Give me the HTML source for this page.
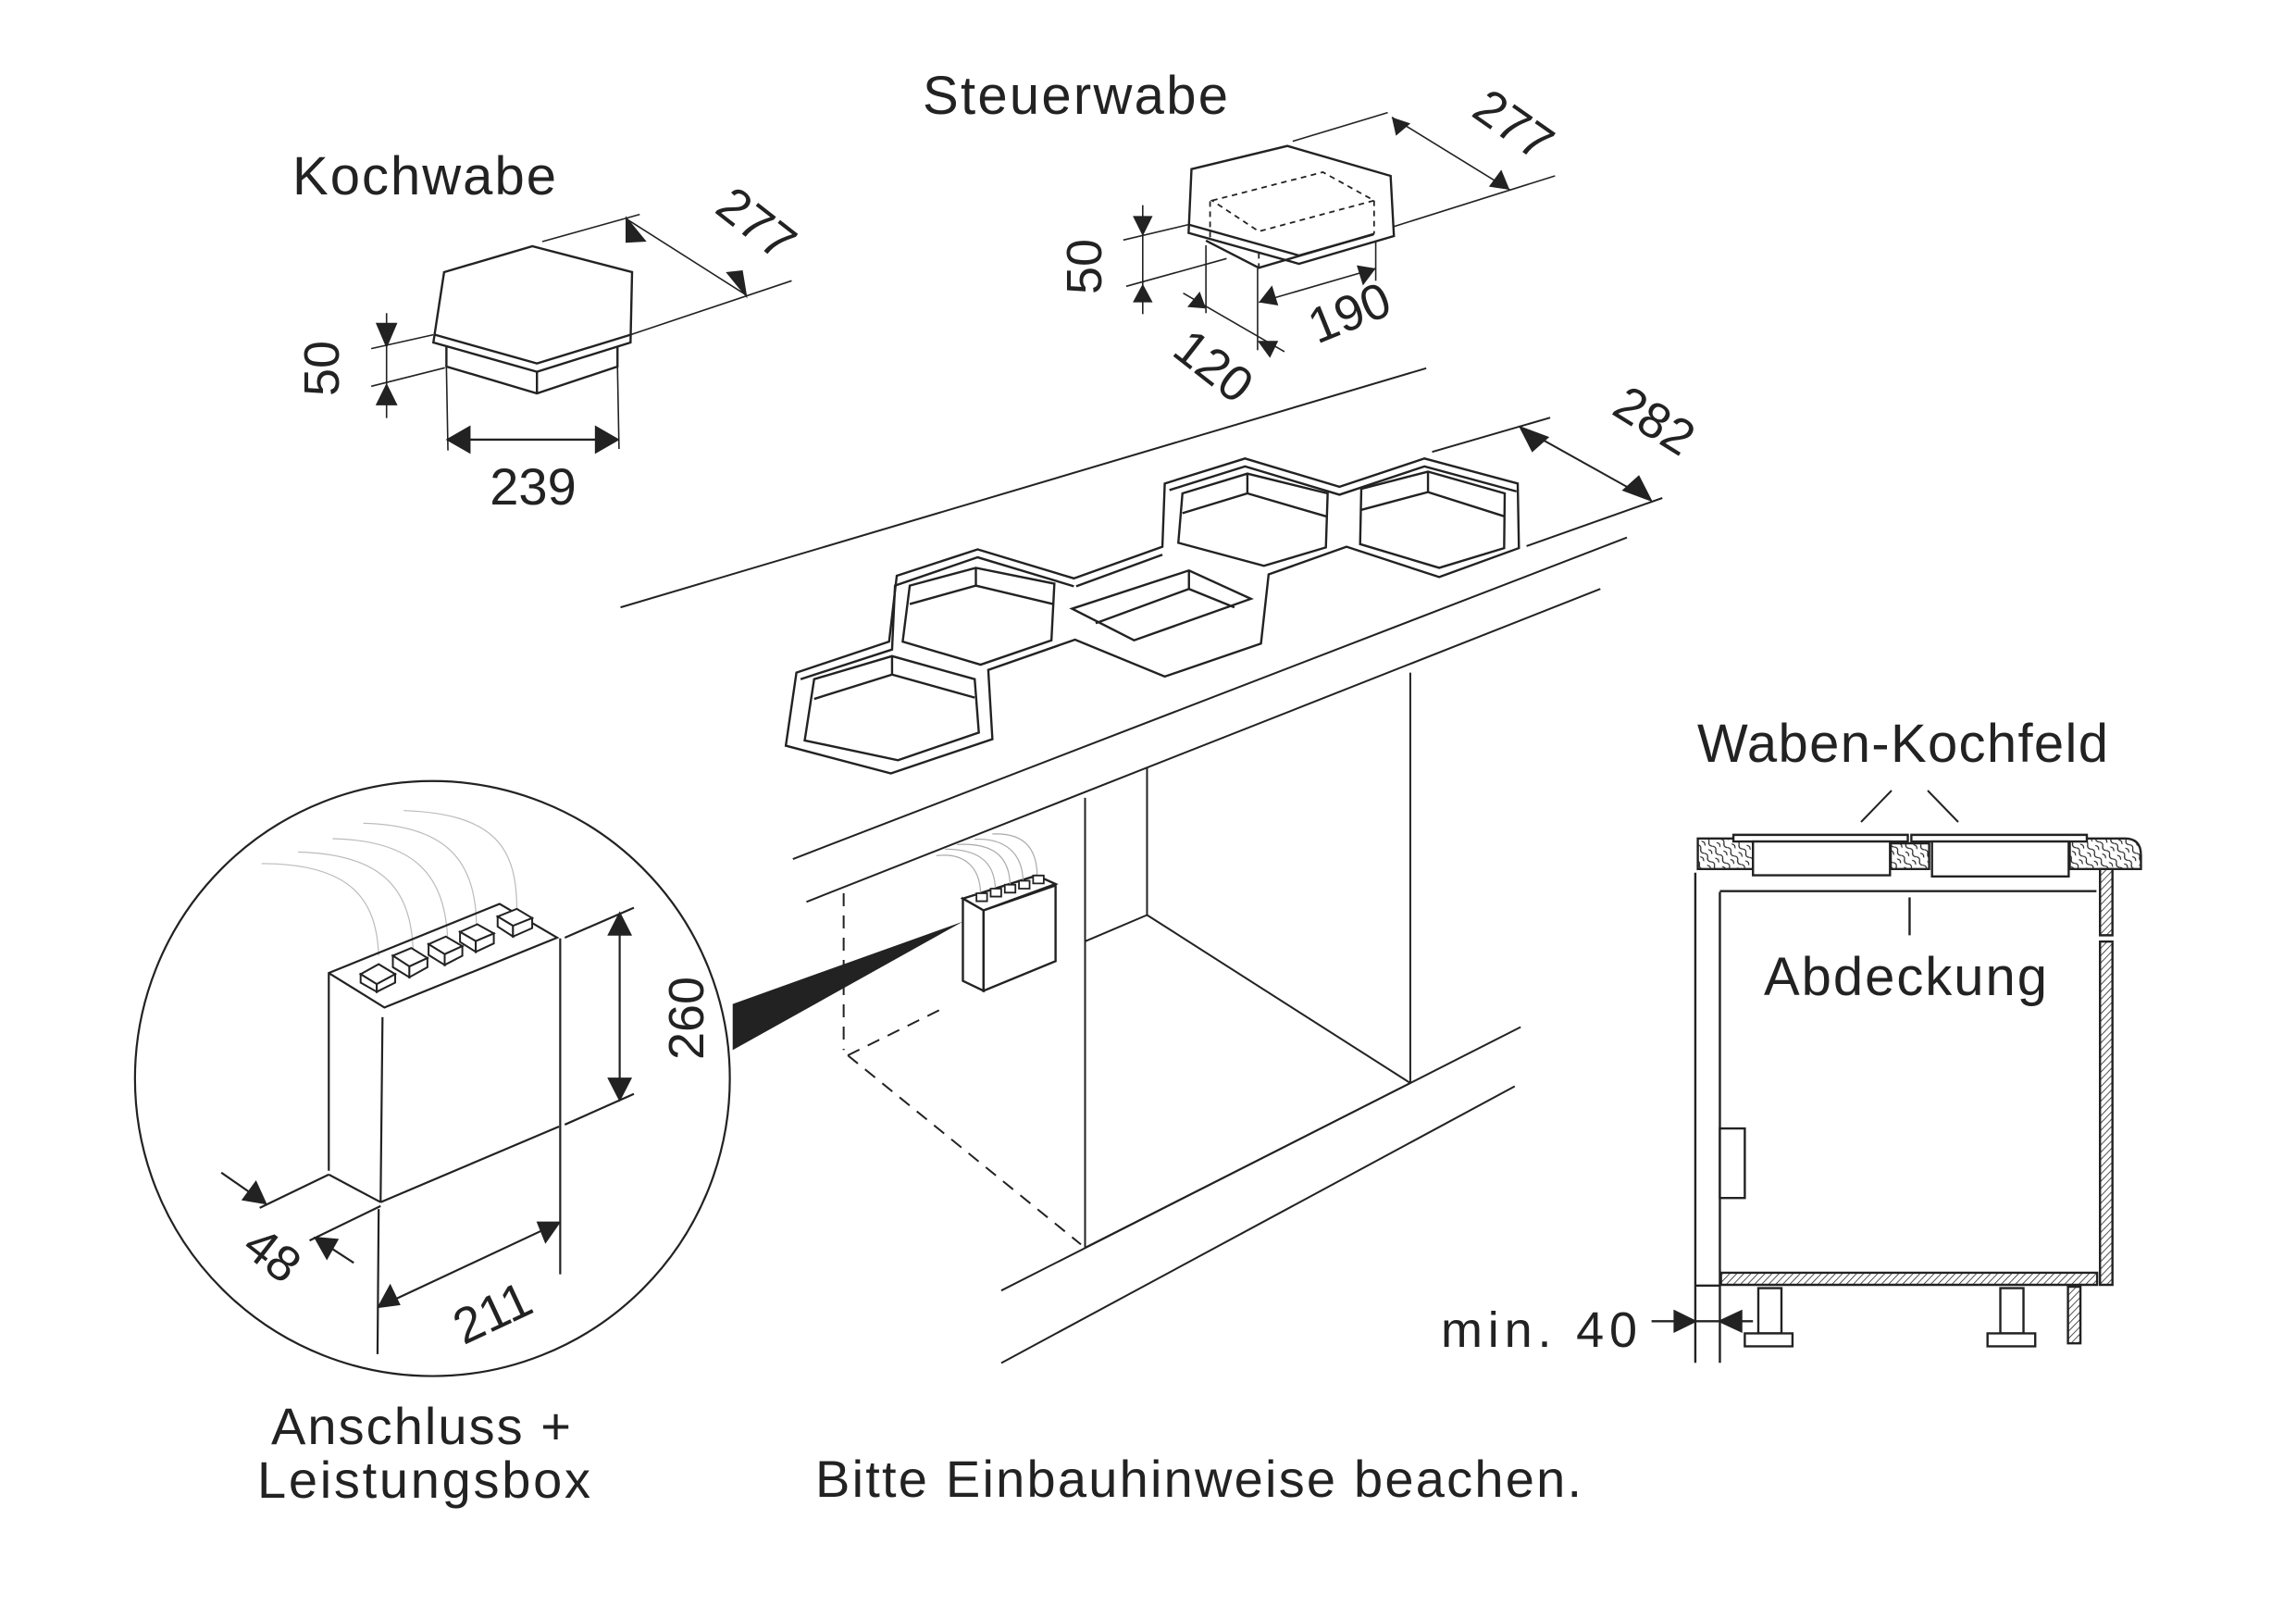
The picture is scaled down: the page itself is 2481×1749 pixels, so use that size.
<!DOCTYPE html>
<html><head><meta charset="utf-8"><style>
html,body{margin:0;padding:0;background:#fff}
svg{display:block}
text{font-family:"Liberation Sans",sans-serif;fill:#222}
.s *{vector-effect:non-scaling-stroke}
</style></head><body>
<svg width="2481" height="1749" viewBox="0 0 2481 1749" xmlns="http://www.w3.org/2000/svg">
<defs>
<pattern id="h" patternUnits="userSpaceOnUse" width="14" height="14" patternTransform="rotate(45)">
<rect width="14" height="14" fill="#fff"/><line x1="0" y1="0" x2="0" y2="14" stroke="#222" stroke-width="4"/>
</pattern>
<pattern id="w" patternUnits="userSpaceOnUse" width="30" height="30" patternTransform="rotate(-40)">
<rect width="30" height="30" fill="#fff"/><path d="M0 0 Q8 8 0 15 Q-8 22 0 30 M15 0 Q23 8 15 15 Q7 22 15 30" stroke="#222" stroke-width="3" fill="none"/>
</pattern>
</defs>

<!-- Kochwabe -->
<g class="s" transform="translate(300,60) scale(0.829,0.3333)" stroke="#222" stroke-width="2.4" fill="none">
<polygon points="217,702 332,618 462,702 460,930 338,1025 203,930"/>
<polyline points="205,905 338,998 460,905"/>
<polyline points="220,945 220,1008 338,1095 443,1008 443,945"/>
<line x1="338" y1="1025" x2="338" y2="1095"/>
<line x1="122" y1="950" x2="203" y2="905" stroke-width="1.6"/>
<line x1="122" y1="1072" x2="218" y2="1012" stroke-width="1.6"/>
<line x1="142" y1="835" x2="142" y2="1175" stroke-width="1.6"/>
<polygon points="130,870 154,870 142,940" fill="#222"/>
<polygon points="130,1130 154,1130 142,1070" fill="#222"/>
<line x1="220" y1="1010" x2="222" y2="1280" stroke-width="1.6"/>
<line x1="443" y1="1010" x2="445" y2="1275" stroke-width="1.6"/>
<line x1="222" y1="1245" x2="443" y2="1245"/>
<polygon points="222,1245 250,1205 250,1285" fill="#222"/>
<polygon points="443,1245 415,1205 415,1285" fill="#222"/>
<line x1="345" y1="603" x2="472" y2="515" stroke-width="1.6"/>
<line x1="460" y1="905" x2="670" y2="730" stroke-width="1.6"/>
<line x1="455" y1="530" x2="610" y2="775" stroke-width="1.6"/>
<polygon points="455,530 478,600 455,603" fill="#222"/>
<polygon points="610,775 587,705 605,700" fill="#222"/>
</g>
<text x="316" y="210" font-size="58" textLength="285">Kochwabe</text>
<text x="0" y="0" font-size="54" transform="translate(366,398) rotate(-90)" text-anchor="middle">50</text>
<text x="576" y="545" font-size="56" text-anchor="middle">239</text>
<text x="0" y="0" font-size="54" transform="translate(806,256) rotate(38)" text-anchor="middle">277</text>

<!-- Steuerwabe -->
<g class="s" transform="translate(1100,120) scale(0.4464,0.3333)" stroke="#222" stroke-width="2.4" fill="none">
<polygon points="420,188 652,113 902,210 910,405 680,495 413,395"/>
<polyline points="413,368 680,468 860,400"/>
<polyline points="455,420 583,508 862,398"/>
<g stroke-dasharray="6,5" stroke-width="1.8">
<polygon points="470,290 738,198 862,290 583,390"/>
<line x1="465" y1="292" x2="465" y2="410"/>
<line x1="583" y1="460" x2="583" y2="508"/>
<line x1="862" y1="290" x2="862" y2="398"/>
</g>
<g stroke-width="1.6">
<line x1="255" y1="418" x2="413" y2="368"/>
<line x1="262" y1="568" x2="505" y2="478"/>
<line x1="302" y1="305" x2="302" y2="658"/>
<line x1="455" y1="435" x2="455" y2="655"/>
<line x1="580" y1="510" x2="580" y2="775"/>
<line x1="400" y1="590" x2="645" y2="780"/>
<line x1="866" y1="420" x2="866" y2="550"/>
<line x1="583" y1="620" x2="866" y2="510"/>
<line x1="665" y1="98" x2="895" y2="5"/>
<line x1="908" y1="375" x2="1300" y2="210"/>
<line x1="905" y1="20" x2="1190" y2="255"/>
</g>
<g fill="#222" stroke="none">
<polygon points="278,340 326,340 302,405"/>
<polygon points="278,620 326,620 302,560"/>
<polygon points="455,640 410,635 440,585"/>
<polygon points="580,745 630,745 610,800"/>
<polygon points="583,620 630,630 615,565"/>
<polygon points="866,510 820,500 835,565"/>
<polygon points="905,20 950,40 915,80"/>
<polygon points="1190,255 1140,245 1170,190"/>
</g>
</g>
<text x="997" y="123" font-size="58" textLength="330">Steuerwabe</text>
<text x="0" y="0" font-size="54" transform="translate(1190,288) rotate(-90)" text-anchor="middle">50</text>
<text x="0" y="0" font-size="54" transform="translate(1300,410) rotate(38)" text-anchor="middle">120</text>
<text x="0" y="0" font-size="54" transform="translate(1465,355) rotate(-22)" text-anchor="middle">190</text>
<text x="0" y="0" font-size="54" transform="translate(1625,150) rotate(35)" text-anchor="middle">277</text>

<!-- Countertop / cabinet -->
<g class="s" transform="translate(830,380) scale(0.6378,0.7117)" stroke="#222" stroke-width="2.4" fill="none">
<line x1="-250" y1="388" x2="1115" y2="25" stroke-width="2"/>
<line x1="1125" y1="152" x2="1325" y2="100" stroke-width="2"/>
<line x1="1285" y1="295" x2="1515" y2="222" stroke-width="2"/>
<line x1="42" y1="770" x2="1455" y2="282" stroke-width="2"/>
<line x1="65" y1="835" x2="1410" y2="360" stroke-width="2"/>
<line x1="1275" y1="115" x2="1495" y2="225" stroke-width="2"/>
<polygon points="1275,115 1320,130 1295,150" fill="#222"/>
<polygon points="1495,225 1450,210 1475,190" fill="#222"/>
<polygon points="30,598 48,487 205,440 218,340 355,300 518,344 668,296 672,200 808,162 968,205 1112,162 1270,200 1272,298 1137,342 980,296 848,338 835,443 672,493 520,437 373,483 380,588 208,640"/>
<polyline points="55,497 210,452 215,355 355,312 518,356"/>
<polyline points="680,210 808,174 968,217 1112,174 1268,212"/>
<polyline points="522,356 668,308"/>
<polygon points="62,590 78,497 210,462 350,497 357,578 220,620"/>
<polyline points="78,527 210,490 350,525"/><line x1="210" y1="463" x2="210" y2="490"/>
<polygon points="228,440 240,355 352,328 485,352 480,438 360,475"/>
<polyline points="240,383 352,355 483,383"/><line x1="352" y1="328" x2="352" y2="355"/>
<polygon points="515,390 713,332 818,375 620,438"/>
<polyline points="555,412 713,360 790,388"/><line x1="713" y1="332" x2="713" y2="360"/>
<polygon points="695,290 702,215 812,185 948,215 945,297 840,325"/>
<polyline points="702,245 812,215 946,250"/><line x1="812" y1="185" x2="812" y2="215"/>
<polygon points="1003,292 1005,208 1118,182 1248,215 1247,298 1137,328"/>
<polyline points="1005,240 1118,213 1248,250"/><line x1="1118" y1="182" x2="1118" y2="213"/>
<g stroke-width="2">
<line x1="537" y1="677" x2="537" y2="1360"/>
<line x1="642" y1="632" x2="642" y2="855"/>
<line x1="1088" y1="487" x2="1088" y2="1110"/>
<line x1="537" y1="895" x2="642" y2="855"/>
<line x1="642" y1="855" x2="1088" y2="1110"/>
<line x1="537" y1="1360" x2="1088" y2="1110"/>
<line x1="395" y1="1425" x2="1275" y2="1025"/>
<line x1="395" y1="1535" x2="1265" y2="1115"/>
</g>
<g stroke-width="2" stroke-dasharray="14,10">
<line x1="128" y1="822" x2="128" y2="1060"/>
<line x1="135" y1="1068" x2="300" y2="995"/>
<line x1="135" y1="1068" x2="530" y2="1355"/>
</g>
<polygon points="330,830 455,795 487,808 365,848" fill="#fff"/>
<polygon points="330,830 365,848 365,970 330,955" fill="#fff"/>
<polygon points="365,848 487,810 487,925 365,970" fill="#fff"/>
<g stroke="#aaa" stroke-width="1.2">
<path d="M360,825 C360,780 330,760 285,765"/><path d="M385,818 C385,770 350,755 300,755"/>
<path d="M410,812 C410,765 380,745 320,748"/><path d="M432,806 C432,760 400,738 350,740"/>
<path d="M456,798 C456,750 430,730 380,732"/>
</g>
<g fill="#fff" stroke-width="1.8">
<rect x="353" y="822" width="18" height="12"/><rect x="377" y="815" width="18" height="12"/>
<rect x="401" y="809" width="18" height="12"/><rect x="425" y="803" width="18" height="12"/>
<rect x="449" y="795" width="18" height="12"/>
</g>
<polygon points="-60,990 330,865 -60,1060" fill="#222" stroke="none"/>
</g>

<!-- Circle detail -->
<g class="s" transform="translate(150,850) scale(0.4147)" stroke="#222" stroke-width="2.2" fill="none">
<circle cx="765" cy="760" r="775" fill="#fff"/>
<g stroke="#bbb" stroke-width="1.2">
<path d="M625,440 C620,300 560,200 320,200"/><path d="M715,445 C715,270 640,175 415,170"/>
<path d="M805,405 C800,230 720,140 505,135"/><path d="M880,370 C880,190 800,100 585,95"/>
<path d="M985,320 C985,160 930,70 690,62"/>
</g>
<polyline points="495,1000 495,485 940,305 1090,393 640,575 495,485"/>
<line x1="635" y1="600" x2="630" y2="1082"/>
<line x1="495" y1="1010" x2="630" y2="1082"/>
<line x1="630" y1="1082" x2="1095" y2="885"/>
<line x1="1098" y1="395" x2="1098" y2="1270"/>
<line x1="1110" y1="393" x2="1290" y2="315"/>
<line x1="1110" y1="880" x2="1290" y2="800"/>
<line x1="1253" y1="340" x2="1253" y2="805"/>
<polygon points="1225,385 1281,385 1253,330" fill="#222"/>
<polygon points="1225,760 1281,760 1253,815" fill="#222"/>
<line x1="315" y1="1097" x2="495" y2="1010"/>
<line x1="445" y1="1182" x2="630" y2="1092"/>
<line x1="215" y1="1005" x2="330" y2="1085"/>
<polygon points="330,1085 272,1075 305,1030" fill="#222"/>
<line x1="560" y1="1240" x2="460" y2="1175"/>
<polygon points="460,1175 517,1180 490,1228" fill="#222"/>
<line x1="625" y1="1100" x2="622" y2="1478"/>
<line x1="625" y1="1355" x2="1095" y2="1135"/>
<polygon points="625,1355 655,1300 678,1348" fill="#222"/>
<polygon points="1095,1135 1060,1185 1040,1135" fill="#222"/>
<g fill="#fff" stroke-width="2">
<polygon points="578,488 625,462 668,488 620,514"/><polygon points="578,488 620,514 620,534 578,510"/><polygon points="620,514 668,488 668,510 620,534"/>
<polygon points="662,440 710,420 752,446 705,468"/><polygon points="662,440 705,468 705,496 662,470"/><polygon points="705,468 752,446 752,470 705,496"/>
<polygon points="755,410 800,390 843,415 797,436"/><polygon points="755,410 797,436 797,464 755,438"/><polygon points="797,436 843,415 843,440 797,464"/>
<polygon points="837,378 882,358 925,382 878,402"/><polygon points="837,378 878,402 878,430 837,404"/><polygon points="878,402 925,382 925,408 878,430"/>
<polygon points="935,338 985,318 1025,342 975,362"/><polygon points="935,338 975,362 975,390 935,364"/><polygon points="975,362 1025,342 1025,368 975,390"/>
</g>
</g>
<text x="0" y="0" font-size="54" transform="translate(760,1100) rotate(-90)" text-anchor="middle">260</text>
<text x="0" y="0" font-size="54" transform="translate(283,1370) rotate(38)" text-anchor="middle">48</text>
<text x="0" y="0" font-size="54" transform="translate(540,1435) rotate(-25)" text-anchor="middle">211</text>
<text x="0" y="0" font-size="54" transform="translate(1778,470) rotate(32)" text-anchor="middle">282</text>

<!-- Side section -->
<g class="s" transform="translate(1800,880) scale(0.3846,0.3975)" stroke="#222" stroke-width="2.4" fill="none">
<rect x="90" y="65" width="155" height="83" fill="url(#w)"/>
<rect x="632" y="78" width="108" height="70" fill="url(#w)"/>
<path d="M1135,65 L1290,65 Q1335,65 1335,110 L1335,148 L1135,148 Z" fill="url(#w)"/>
<rect x="190" y="55" width="490" height="18" fill="#fff"/>
<rect x="690" y="55" width="493" height="18" fill="#fff"/>
<rect x="245" y="73" width="385" height="92" fill="#fff"/>
<rect x="748" y="73" width="384" height="95" fill="#fff"/>
<line x1="83" y1="158" x2="83" y2="1490"/>
<line x1="152" y1="210" x2="152" y2="1490"/>
<line x1="152" y1="208" x2="1210" y2="208"/>
<line x1="685" y1="225" x2="685" y2="328"/>
<rect x="1220" y="148" width="35" height="180" fill="url(#h)"/>
<rect x="1220" y="345" width="35" height="933" fill="url(#h)"/>
<rect x="152" y="853" width="70" height="189" fill="#fff"/>
<rect x="155" y="1245" width="1057" height="33" fill="url(#h)"/>
<line x1="83" y1="1280" x2="152" y2="1280"/>
<rect x="260" y="1287" width="65" height="123" fill="#fff"/>
<rect x="222" y="1410" width="134" height="35" fill="#fff"/>
<rect x="940" y="1287" width="65" height="123" fill="#fff"/>
<rect x="904" y="1410" width="134" height="35" fill="#fff"/>
<rect x="1130" y="1283" width="35" height="154" fill="url(#h)"/>
<line x1="-40" y1="1377" x2="245" y2="1377"/>
<polygon points="25,1350 82,1377 25,1404" fill="#222"/>
<polygon points="212,1350 152,1377 212,1404" fill="#222"/>
</g>
<line x1="2011" y1="888" x2="2044" y2="854" stroke="#222" stroke-width="2"/>
<line x1="2083" y1="854" x2="2116" y2="888" stroke="#222" stroke-width="2"/>
<text x="1834" y="823" font-size="58" textLength="444">Waben-Kochfeld</text>
<text x="1906" y="1075" font-size="58" textLength="306">Abdeckung</text>
<text x="1557" y="1455" font-size="54" textLength="212">min. 40</text>

<text x="293" y="1560" font-size="56" textLength="324">Anschluss +</text>
<text x="278" y="1618" font-size="56" textLength="360">Leistungsbox</text>
<text x="881" y="1617" font-size="56" textLength="828">Bitte Einbauhinweise beachen.</text>
</svg>
</body></html>
